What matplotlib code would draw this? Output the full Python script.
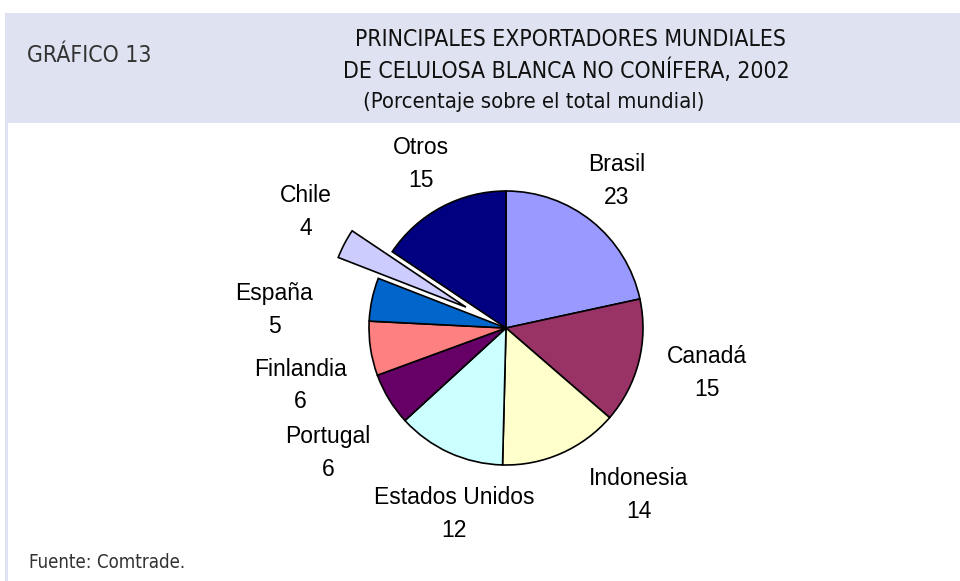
import matplotlib.pyplot as plt
from matplotlib.patches import Rectangle

# datos
paises = ['Brasil', 'Canadá', 'Indonesia', 'Estados Unidos', 'Portugal',
          'Finlandia', 'España', 'Chile', 'Otros']
valores = [23, 15, 14, 12, 6, 6, 5, 4, 15]           # etiquetas del gráfico
participacion = [21.6, 14.75, 14.05, 12.8, 6.2, 6.4, 5.1, 3.5, 15.6]  # tamaño de los sectores
colores = ['#9999FF', '#993366', '#FFFFCC', '#CCFFFF', '#660066',
           '#FF8080', '#0066CC', '#CCCCFF', '#000080']
explode = [0, 0, 0, 0, 0, 0, 0, 0.33, 0]

# posiciones de las etiquetas (en radios del gráfico)
pos_etiquetas = [(0.81, 1.07), (1.47, -0.33), (0.97, -1.22), (-0.38, -1.36),
                 (-1.30, -0.91), (-1.50, -0.42), (-1.69, 0.13), (-1.46, 0.85),
                 (-0.62, 1.20)]

W, H = 960, 581
fig = plt.figure(figsize=(W / 100, H / 100), dpi=100)
fig.patch.set_facecolor('white')

# franja del encabezado y borde izquierdo
fig.patches.append(Rectangle((5 / W, (H - 123) / H), 1 - 5 / W, 110 / H,
                             transform=fig.transFigure, facecolor='#DFE3F1',
                             edgecolor='none', zorder=0))
fig.patches.append(Rectangle((5 / W, 0), 3 / W, (H - 123) / H,
                             transform=fig.transFigure, facecolor='#DFE3F1',
                             edgecolor='none', zorder=0))

cond = dict(family='DejaVu Sans', fontstretch='condensed')
fig.text(27 / W, 1 - 55 / H, 'GRÁFICO 13', fontsize=16.5, color='#333333',
         ha='left', va='center', **cond)
fig.text(570 / W, 1 - 40 / H, 'PRINCIPALES EXPORTADORES MUNDIALES', fontsize=16.5,
         color='#111111', ha='center', va='center', **cond)
fig.text(566 / W, 1 - 71 / H, 'DE CELULOSA BLANCA NO CONÍFERA, 2002', fontsize=16.5,
         color='#111111', ha='center', va='center', **cond)
fig.text(534 / W, 1 - 102 / H, '(Porcentaje sobre el total mundial)', fontsize=15.8,
         color='#111111', ha='center', va='center', **cond)
fig.text(29 / W, 1 - 563 / H, 'Fuente: Comtrade.', fontsize=13.4, color='#333333',
         ha='left', va='center', **cond)

# ejes del pastel: centro (506, 328) px, radio 137 px
cx, cy, r = 506, 328, 137
half = 220
ax = fig.add_axes([(cx - half) / W, (H - cy - half) / H, 2 * half / W, 2 * half / H])
ax.pie(participacion, colors=colores, explode=explode, startangle=90,
       counterclock=False, radius=1,
       wedgeprops=dict(edgecolor='black', linewidth=1.2))
ax.set_xlim(-half / r, half / r)
ax.set_ylim(-half / r, half / r)
ax.set_aspect('equal')
ax.axis('off')

for nombre, valor, (x, y) in zip(paises, valores, pos_etiquetas):
    ax.text(x, y, f'{nombre}\n{valor}', ha='center', va='center', fontsize=16.5,
            family='Liberation Sans', linespacing=1.55, clip_on=False)

fig.savefig('out.png', dpi=100)
